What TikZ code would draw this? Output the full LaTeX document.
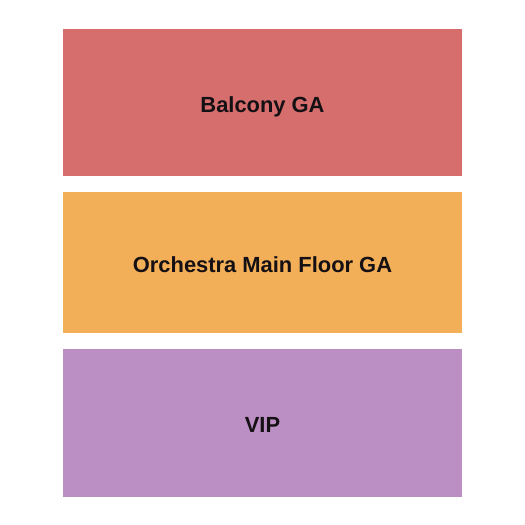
\documentclass[tikz,border=0pt]{standalone}
\usepackage{fontspec}
\setmainfont{Liberation Sans}
\definecolor{balc}{RGB}{215,110,110}
\definecolor{orch}{RGB}{243,174,88}
\definecolor{vipc}{RGB}{187,143,195}
\definecolor{labc}{RGB}{20,16,20}
\begin{document}
\begin{tikzpicture}[x=1pt,y=-1pt,
  lab/.style={anchor=base,inner sep=0pt,font=\bfseries\fontsize{21.9}{24}\selectfont,text=labc}]
\useasboundingbox (0,0) rectangle (525,525);
\fill[balc] (63,29) rectangle (462,176);
\fill[orch] (63,192) rectangle (462,333);
\fill[vipc] (63,349) rectangle (462,497);
\node[lab] (b) at (262.5,112.3) {Balcony GA};
\node[lab] (o) at (262.5,272) {Orchestra Main Floor GA};
\node[lab] (v) at (262.5,432.7) {VIP};
\end{tikzpicture}
\end{document}
